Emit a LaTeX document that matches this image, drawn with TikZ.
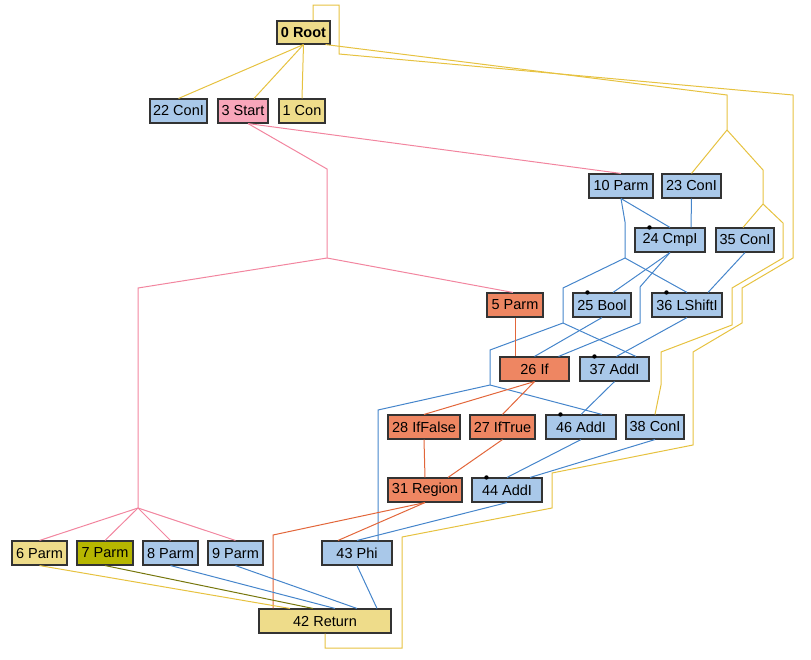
\documentclass[tikz,border=0pt]{standalone}
\usepackage{fontspec}
\setmainfont{Liberation Sans}
\usepackage{xcolor}
\usepackage{tikz}
\usetikzlibrary{positioning}

\definecolor{fblue}{HTML}{A9C8E9}
\definecolor{fpink}{HTML}{F8A6BA}
\definecolor{fyellow}{HTML}{EEDC8A}
\definecolor{forange}{HTML}{EE8662}
\definecolor{folive}{HTML}{B6B600}
\definecolor{eblue}{HTML}{4585CB}
\definecolor{epink}{HTML}{F2859F}
\definecolor{eyellow}{HTML}{E6C240}
\definecolor{eorange}{HTML}{E2663A}
\definecolor{eolive}{HTML}{76760C}

\begin{document}
\begin{tikzpicture}[x=1pt, y=-1pt,
  op/.style={rectangle, draw=black!80, line width=1.1pt, minimum height=24pt,
    inner sep=0pt, font=\fontsize{14.5}{16}\selectfont, minimum width=#1},
  blu/.style={op=#1, fill=fblue},
  pnk/.style={op=#1, fill=fpink},
  yel/.style={op=#1, fill=fyellow},
  org/.style={op=#1, fill=forange},
  olv/.style={op=#1, fill=folive},
  eB/.style={draw=eblue, line width=1pt},
  eP/.style={draw=epink, line width=1pt},
  eY/.style={draw=eyellow, line width=1pt},
  eO/.style={draw=eorange, line width=1pt},
  eV/.style={draw=eolive, line width=1pt},
]
  \useasboundingbox (0,0) rectangle (811,659);

  \node[yel=53pt, minimum height=23pt, font=\fontsize{14.5}{16}\selectfont\bfseries] (root0) at (303.5,32.5) {0 Root};
  \node[blu=57pt] (con22)  at (178.5,111) {22 ConI};
  \node[pnk=50pt] (start3) at (243,111)   {3 Start};
  \node[yel=46pt] (con1)   at (302,111)   {1 Con};

  \node[blu=64pt] (parm10) at (621,186)   {10 Parm};
  \node[blu=59pt] (con23)  at (691.5,186) {23 ConI};
  \node[blu=70pt] (cmp24)  at (670,240)   {24 CmpI};
  \node[blu=58pt] (con35)  at (745,240)   {35 ConI};

  \node[org=56pt] (parm5)  at (515,305)   {5 Parm};
  \node[blu=58pt] (bool25) at (602,305)   {25 Bool};
  \node[blu=70pt] (lsh36)  at (687,305)   {36 LShiftI};

  \node[org=69pt] (if26)   at (534.5,369) {26 If};
  \node[blu=69pt] (add37)  at (614.5,369) {37 AddI};

  \node[org=72pt] (iffalse28) at (424,427)   {28 IfFalse};
  \node[org=65pt] (iftrue27)  at (502.5,427) {27 IfTrue};
  \node[blu=70pt] (add46)     at (581,427)   {46 AddI};
  \node[blu=58pt] (con38)     at (655,427)   {38 ConI};

  \node[org=74pt] (region31) at (425,490) {31 Region};
  \node[blu=70pt] (add44)    at (507,490) {44 AddI};

  \node[yel=55pt] (parm6) at (39.5,553)  {6 Parm};
  \node[olv=56pt] (parm7) at (105,553)   {7 Parm};
  \node[blu=55pt] (parm8) at (170.5,553) {8 Parm};
  \node[blu=55pt] (parm9) at (235.5,553) {9 Parm};
  \node[blu=70pt] (phi43) at (357,553)   {43 Phi};

  \node[yel=132pt] (ret42) at (325,621) {42 Return};

  \foreach \n in {cmp24,bool25,lsh36,add37,add46,add44}
    \fill ([xshift=15pt]\n.north west) circle (2.2pt);

  % branch points
  \coordinate (ya) at (727,130);
  \coordinate (yb) at (763,204);
  \coordinate (pa) at (327,258);
  \coordinate (pb) at (138,508);
  \coordinate (ba) at (625,258);
  \coordinate (bb) at (563,323);
  \coordinate (bc) at (490,385);

  % control from root and start
  \draw[eY] (root0.south) -- (con22.north);
  \draw[eY] (root0.south) -- ([xshift=11pt]start3.north);
  \draw[eY] (root0.south) -- (con1.north);
  \draw[eY] ([xshift=22pt]root0.south) -- (727,95) -- (ya);
  \draw[eY] (ya) -- (con23.north);
  \draw[eY] (ya) -- (763,170) -- (yb);
  \draw[eY] (yb) -- ([xshift=-2pt]con35.north);
  \draw[eY] (yb) -- (783,223) -- (783,258) -- (732,288) -- (732,325) -- (661,352) -- (661,385) -- (con38.north);
  \draw[eY] (ret42.south) -- (325,648) -- (402,648) -- (402,537) -- (552,508) -- (552,473) -- (693,445)
    -- (693,352) -- (742,323) -- (742,288) -- (793,258) -- (793,95) -- (339,54) -- (339,5) -- (313,5)
    -- ([xshift=9.5pt]root0.north);

  \draw[eP] ([xshift=5pt]start3.south) -- (parm10.north);
  \draw[eP] ([xshift=5pt]start3.south) -- (327,169) -- (pa);
  \draw[eP] (pa) -- ([xshift=-2pt]parm5.north);
  \draw[eP] (pa) -- (138,288) -- (pb);
  \foreach \p in {parm6,parm7,parm8,parm9}
    \draw[eP] (pb) -- (\p.north);

  % data
  \draw[eB] (parm10.south) -- (cmp24.north);
  \draw[eB] (con23.south) -- ([xshift=21pt]cmp24.north);
  \draw[eB] (parm10.south) -- (625,222) -- (ba);
  \draw[eB] (ba) -- (lsh36.north);
  \draw[eB] (con35.south) -- ([xshift=21pt]lsh36.north);
  \draw[eB] (ba) -- (563,288) -- (bb);
  \draw[eB] (bb) -- ([xshift=21.5pt]add37.north);
  \draw[eB] (bb) -- (490,350) -- (bc);
  \draw[eB] (bc) -- ([xshift=21pt]add46.north);
  \draw[eB] (bc) -- (378,410) -- ([xshift=21pt]phi43.north);
  \draw[eB] (cmp24.south) -- ([xshift=11pt]bool25.north);
  \draw[eB] (cmp24.south) -- (640,287) -- (640,323) -- ([xshift=24pt]if26.north);
  \draw[eB] (bool25.south) -- (if26.north);
  \draw[eB] (lsh36.south) -- ([xshift=2pt]add37.north);
  \draw[eB] (add37.south) -- (add46.north);
  \draw[eB] (add46.south) -- (add44.north);
  \draw[eB] (con38.south) -- ([xshift=23pt]add44.north);
  \draw[eB] (add44.south) -- (phi43.north);

  \draw[eO] (parm5.south) -- ([xshift=-19.5pt]if26.north);
  \draw[eO] (if26.south) -- (iffalse28.north);
  \draw[eO] (if26.south) -- (iftrue27.north);
  \draw[eO] (iffalse28.south) -- (region31.north);
  \draw[eO] (iftrue27.south) -- ([xshift=23pt]region31.north);
  \draw[eO] (region31.south) -- ([xshift=-19pt]phi43.north);
  \draw[eO] (region31.south) -- (273,535) -- ([xshift=-52pt]ret42.north);

  % into return
  \draw[eY] (parm6.south) -- ([xshift=-35pt]ret42.north);
  \draw[eV] (parm7.south) -- ([xshift=-12pt]ret42.north);
  \draw[eB] (parm8.south) -- ([xshift=10pt]ret42.north);
  \draw[eB] (parm9.south) -- ([xshift=32pt]ret42.north);
  \draw[eB] (phi43.south) -- ([xshift=52pt]ret42.north);
\end{tikzpicture}
\end{document}
